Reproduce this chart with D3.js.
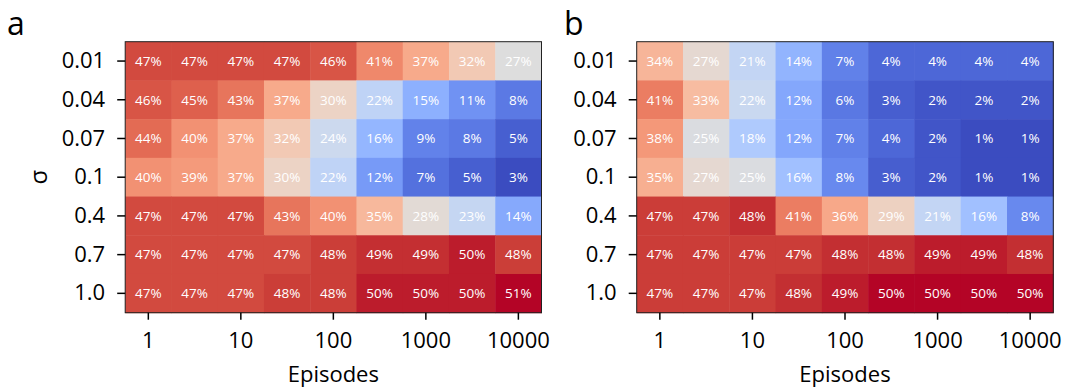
<!DOCTYPE html>
<html><head><meta charset="utf-8">
<script src="https://cdn.jsdelivr.net/npm/d3@7"></script>
<style>
html,body{margin:0;padding:0;background:#fff;}
text{font-family:"Open Sans","Noto Sans",sans-serif;}
</style></head>
<body><svg id="chart" width="1068" height="390"></svg>
<script>
const sigmas = ["0.01","0.04","0.07","0.1","0.4","0.7","1.0"];
const episodes = ["1","3","10","30","100","300","1000","3000","10000"];
const xTickLabels = ["1","10","100","1000","10000"];
const valuesA = [
  [47,47,47,47,46,41,37,32,27],
  [46,45,43,37,30,22,15,11,8],
  [44,40,37,32,24,16,9,8,5],
  [40,39,37,30,22,12,7,5,3],
  [47,47,47,43,40,35,28,23,14],
  [47,47,47,47,48,49,49,50,48],
  [47,47,47,48,48,50,50,50,51]
];
const valuesB = [
  [34,27,21,14,7,4,4,4,4],
  [41,33,22,12,6,3,2,2,2],
  [38,25,18,12,7,4,2,1,1],
  [35,27,25,16,8,3,2,1,1],
  [47,47,48,41,36,29,21,16,8],
  [47,47,47,47,48,48,49,49,48],
  [47,47,47,48,49,50,50,50,50]
];

// coolwarm (Moreland) colormap
const cw = [[59,76,192],[68,90,204],[77,104,215],[87,117,225],[98,130,234],[108,142,241],[119,154,247],[130,165,251],[141,176,254],[152,185,255],[163,194,255],[174,201,253],[184,208,249],[194,213,244],[204,217,238],[213,219,230],[221,221,221],[229,216,209],[236,211,197],[241,204,184],[245,196,173],[247,187,160],[247,177,148],[247,166,135],[244,154,123],[241,141,111],[236,127,99],[229,112,88],[222,96,77],[213,80,66],[203,62,56],[192,40,47],[180,4,38]].map(c=>d3.rgb(c[0],c[1],c[2]).toString());
const coolwarm = d3.piecewise(d3.interpolateRgb, cw);

const svg = d3.select("#chart");
const FONT = '"Open Sans","Noto Sans",sans-serif';

function panel(values, box, letter, letterX, showSigma) {
  const g = svg.append("g");
  const x = d3.scaleBand().domain(episodes).range([box.x0, box.x1]);
  const y = d3.scaleBand().domain(sigmas).range([box.y0, box.y1]);
  const flat = values.flat();
  const color = d3.scaleSequential(coolwarm).domain(d3.extent(flat));
  const cells = [];
  values.forEach((row, i) => row.forEach((v, j) => cells.push({s: sigmas[i], e: episodes[j], v})));
  g.selectAll("rect.cell").data(cells).join("rect")
    .attr("class","cell")
    .attr("x", d => x(d.e)).attr("y", d => y(d.s))
    .attr("width", x.bandwidth()+0.5).attr("height", y.bandwidth()+0.5)
    .attr("fill", d => color(d.v));
  g.selectAll("text.val").data(cells).join("text")
    .attr("class","val")
    .attr("x", d => x(d.e) + x.bandwidth()/2)
    .attr("y", d => y(d.s) + y.bandwidth()/2)
    .attr("dy","0.36em")
    .attr("text-anchor","middle")
    .attr("fill","#fff")
    .attr("font-size", 13.5)
    .text(d => d.v + "%");
  g.append("rect")
    .attr("x", box.x0).attr("y", box.y0)
    .attr("width", box.x1-box.x0).attr("height", box.y1-box.y0)
    .attr("fill","none").attr("stroke","#222").attr("stroke-width",1);

  const yAxis = g.append("g").attr("transform",`translate(${box.x0},0)`)
    .call(d3.axisLeft(y).tickSize(8).tickPadding(12));
  yAxis.select(".domain").remove();
  yAxis.selectAll(".tick line").attr("stroke","#000").attr("stroke-width",1.5);
  yAxis.selectAll(".tick text").attr("font-size",22).attr("fill","#000")
    .style("font-family",FONT);

  const xAxis = g.append("g").attr("transform",`translate(0,${box.y1})`)
    .call(d3.axisBottom(x).tickValues(xTickLabels).tickSize(7).tickPadding(13));
  xAxis.select(".domain").remove();
  xAxis.selectAll(".tick line").attr("stroke","#000").attr("stroke-width",1.5);
  xAxis.selectAll(".tick text").attr("font-size",22).attr("fill","#000")
    .style("font-family",FONT);

  g.append("text").attr("x",(box.x0+box.x1)/2).attr("y",381.5)
    .attr("text-anchor","middle").attr("font-size",22).text("Episodes");

  g.append("text").attr("x",letterX).attr("y",34.5).attr("font-size",32).text(letter);

  if (showSigma) {
    g.append("text").attr("transform",`translate(47,${(box.y0+box.y1)/2}) rotate(-90)`)
      .attr("text-anchor","middle").attr("font-size",24).text("σ");
  }
}

panel(valuesA, {x0:125.2, x1:541.5, y0:41.7, y1:312.7}, "a", 7, true);
panel(valuesB, {x0:636.7, x1:1053.3, y0:41.7, y1:312.7}, "b", 564, false);
</script>
</body></html>
